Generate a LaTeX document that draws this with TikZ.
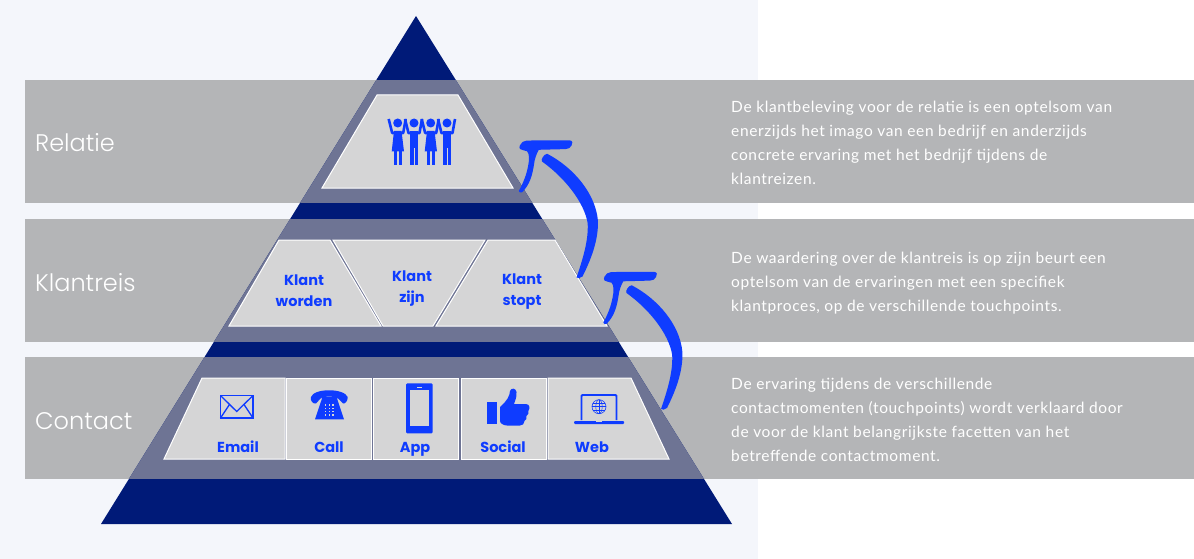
\documentclass[tikz,border=0pt]{standalone}
\usepackage{fontspec}
\setmainfont{Lato}[LetterSpace=4]
\newfontfamily\blufont{Poppins}
\newfontfamily\headfont{Poppins Light}
\definecolor{pagebg}{HTML}{F4F6FB}
\definecolor{bandc}{HTML}{B4B5B7}
\definecolor{navy}{HTML}{001A78}
\definecolor{slatec}{HTML}{6E7494}
\definecolor{cellc}{HTML}{D5D5D6}
\definecolor{blu}{HTML}{0F3CFF}
\tikzset{
  cell/.style={fill=cellc,draw=white,line width=1pt,line join=miter},
  band/.style={fill=bandc,draw=none},
  head/.style={text=white,font=\headfont\fontsize{24}{30}\selectfont,anchor=base west,inner sep=0pt},
  para/.style={text=white,font=\fontsize{15.5}{24.1}\selectfont,anchor=north west,align=left,inner sep=0pt},
  lab/.style={text=blu,font=\blufont\bfseries\fontsize{14.5}{20}\selectfont,anchor=base,inner sep=0pt},
  ico/.style={fill=blu,draw=none},
  icoline/.style={draw=blu,fill=none},
}
\newcommand{\brush}[2]{%
\begin{scope}[shift={(#1,#2)}]
  \fill[blu] (603.3,322.5) .. controls (608,314) and (611,306) .. (612.5,298)
    .. controls (614,291) and (614,285) .. (611.5,282.7)
    .. controls (609,281.5) and (606,282) .. (604.5,280.5)
    .. controls (603,278.5) and (605,275) .. (607,273.5)
    .. controls (609,272) and (612,272) .. (616,272)
    -- (654,271.8) .. controls (657.5,272) and (657.5,275) .. (656,277)
    .. controls (655,279.5) and (653,280.3) .. (650,280.6)
    -- (623.3,281.3) .. controls (621,285) and (619,291) .. (618.5,296)
    .. controls (617,306) and (614.5,316) .. (606.7,323.7)
    .. controls (605,324.5) and (603.5,324) .. (603.3,322.5) -- cycle;
  \fill[blu] (631.7,285.3) .. controls (658,299) and (680,325) .. (682.4,352)
    .. controls (683.2,372) and (675,392) .. (667,408)
    .. controls (665,410) and (662,410) .. (661,409)
    .. controls (667.5,390) and (673,372) .. (672.2,355)
    .. controls (669,334) and (649,309) .. (626.5,293)
    .. controls (625,291) and (628.5,285.5) .. (631.7,285.3) -- cycle;
\end{scope}}
\newcommand{\personarms}[1]{%
  \fill[blu] (#1,123) circle (4.5);
  \draw[blu,line width=2.6pt,line join=round] (#1-9,119) -- (#1-5.5,133) -- (#1+5.5,133) -- (#1+8,119);
}
\begin{document}
\begin{tikzpicture}[x=1pt,y=-1pt]
\useasboundingbox (0,0) rectangle (1194,559);
\fill[white] (0,0) rectangle (1194,559);
\fill[pagebg] (0,0) rectangle (758,559);
\fill[band] (25,80) rectangle (1194,203);
\fill[band] (25,219) rectangle (1194,342);
\fill[band] (25,357) rectangle (1194,479);
\fill[navy] (416,16) -- (732,524) -- (101,524) -- cycle;
\begin{scope}
  \clip (416,16) -- (732,524) -- (101,524) -- cycle;
  \fill[slatec] (25,80) rectangle (1194,203);
  \fill[slatec] (25,219) rectangle (1194,342);
  \fill[slatec] (25,357) rectangle (1194,479);
\end{scope}
% cells
\path[cell] (377,95) -- (458,95) -- (513,188) -- (322,188) -- cycle;
\path[cell] (279,240) -- (330,240) -- (381,326) -- (229,326) -- cycle;
\path[cell] (333,240) -- (485,240) -- (433,326) -- (383,326) -- cycle;
\path[cell] (488,240) -- (555,240) -- (607,326) -- (436,326) -- cycle;
\path[cell] (202,378) -- (285,378) -- (285,459) -- (164,459) -- cycle;
\path[cell] (286.5,378) -- (371.5,378) -- (371.5,459) -- (286.5,459) -- cycle;
\path[cell] (373.5,378) -- (458.5,378) -- (458.5,459) -- (373.5,459) -- cycle;
\path[cell] (461,378) -- (546,378) -- (546,459) -- (461,459) -- cycle;
\path[cell] (548,378) -- (631,378) -- (669,459) -- (548,459) -- cycle;
% arrows
\brush{0}{0}
\brush{-84.5}{-131.5}
% people
\personarms{397.7}
\personarms{414}
\personarms{430.7}
\personarms{447}
\fill[blu] (394,131) -- (401.5,131) -- (404,151.5) -- (391.7,151.5) -- cycle;
\fill[blu] (393.6,151) rectangle (396.9,165);
\fill[blu] (398.5,151) rectangle (401.8,165);
\fill[blu] (427,131) -- (434.5,131) -- (437,151.5) -- (424.7,151.5) -- cycle;
\fill[blu] (426.6,151) rectangle (429.9,165);
\fill[blu] (431.5,151) rectangle (434.8,165);
\fill[blu] (410,131) rectangle (418.4,148);
\fill[blu] (410,147) rectangle (413.6,165);
\fill[blu] (414.8,147) rectangle (418.4,165);
\fill[blu] (443,131) rectangle (451.4,148);
\fill[blu] (443,147) rectangle (446.6,165);
\fill[blu] (447.8,147) rectangle (451.4,165);
% envelope
\draw[icoline,line width=1.7pt] (220.5,395.5) rectangle (253,418);
\draw[icoline,line width=1.3pt] (220.5,395.5) -- (236.7,411.5) -- (253,395.5);
\draw[icoline,line width=1.3pt] (220.5,418) -- (229.5,404.5);
\draw[icoline,line width=1.3pt] (253,418) -- (244,404.5);
% telephone
\fill[blu] (311,397) .. controls (314,388) and (344,388) .. (347.7,397)
  .. controls (348,401) and (345,404) .. (343,403.5) -- (338,398.5)
  .. controls (335,396) and (323,396) .. (320.5,398.5) -- (316,403.5)
  .. controls (313,404) and (310,401) .. (311,397) -- cycle;
\fill[blu] (322,397) -- (337,397) -- (337.5,400) -- (344,419.3) -- (315,419.3) -- (321.5,400) -- cycle;
\foreach \xx in {325.5,329.3,333.1}{\foreach \yy in {405,408.3,411.6,414.9}{\fill[cellc] (\xx-.8,\yy-.8) rectangle (\xx+.8,\yy+.8);}}
% mobile
\fill[ico,rounded corners=1.2pt] (406,383.3) rectangle (432.7,433.3);
\fill[cellc] (410,390) rectangle (429.4,426);
\fill[cellc] (416.5,386.6) rectangle (422.3,388);
% thumb
\fill[blu] (486.7,401.7) rectangle (496.7,424);
\fill[blu] (500,407) .. controls (506,402) and (510,396) .. (510,391)
  .. controls (511,387.5) and (516,388) .. (516.5,392)
  .. controls (517,397) and (515,401) .. (514,404)
  -- (526,404) .. controls (530,404) and (530,409) .. (528.5,410.5)
  .. controls (529,413) and (528,415) .. (526.5,416)
  .. controls (527,418) and (526,420.5) .. (524.5,421)
  .. controls (525,424) and (522,425.5) .. (520,425.5)
  -- (507,425.5) .. controls (503,425.5) and (500,423) .. (500,421) -- cycle;
% laptop
\draw[icoline,line width=1.8pt,rounded corners=1pt] (581.5,420) -- (581.5,395) -- (616.5,395) -- (616.5,420);
\fill[blu,rounded corners=1pt] (574,421) rectangle (624,424);
\fill[cellc] (596,421) rectangle (602,422);
\draw[icoline,line width=.6pt] (599,406.7) circle (7);
\draw[icoline,line width=.5pt] (599,406.7) ellipse (3.2 and 7);
\draw[icoline,line width=.5pt] (592,406.7) -- (606,406.7) (593,403) -- (605,403) (593,410.4) -- (605,410.4) (599,399.7) -- (599,413.7);
% labels
\node[lab] (email) at (238,452) {Email};
\node[lab] (call) at (329,452) {Call};
\node[lab] (app) at (415,452) {App};
\node[lab] (social) at (503,452) {Social};
\node[lab] (web) at (592,452) {Web};
\node[lab] (k1a) at (304,285.5) {Klant};
\node[lab] (k1b) at (304,306.5) {worden};
\node[lab] (k2a) at (412,281.5) {Klant};
\node[lab] (k2b) at (412,302.5) {zijn};
\node[lab] (k3a) at (522,284) {Klant};
\node[lab] (k3b) at (522,305) {stopt};
\node[head] (relatie) at (35,152) {Relatie};
\node[head] (klantreis) at (35,291) {Klantreis};
\node[head] (contact) at (35,429) {Contact};
\node[para] (p1) at (731,101) {De klantbeleving voor de relatie is een optelsom van\\enerzijds het imago van een bedrijf en anderzijds\\concrete ervaring met het bedrijf tijdens de\\klantreizen.};
\node[para] (p2) at (731,252) {De waardering over de klantreis is op zijn beurt een\\optelsom van de ervaringen met een specifiek\\klantproces, op de verschillende touchpoints.};
\node[para] (p3) at (731,378) {De ervaring tijdens de verschillende\\contactmomenten (touchpoints) wordt verklaard door\\de voor de klant belangrijkste facetten van het\\betreffende contactmoment.};
\end{tikzpicture}
\end{document}
